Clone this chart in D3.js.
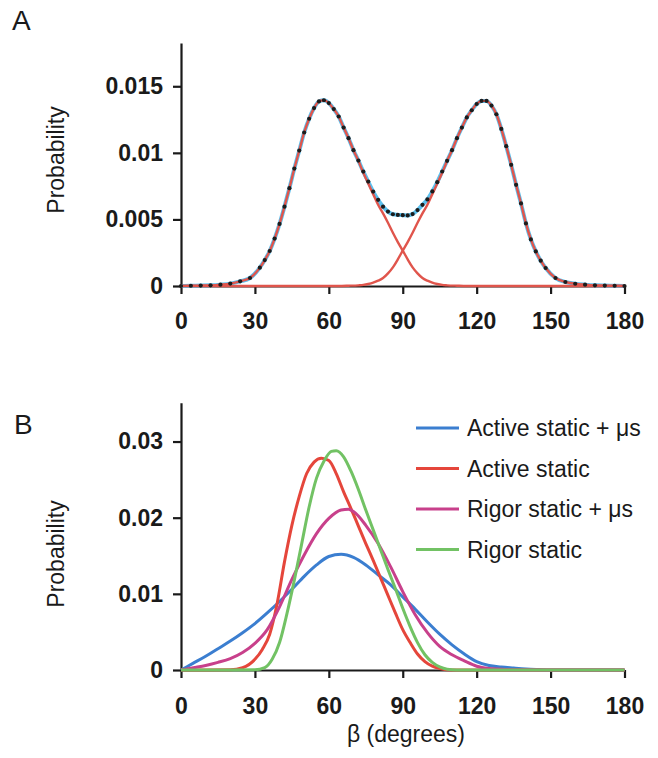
<!DOCTYPE html>
<html>
<head>
<meta charset="utf-8">
<script src="https://cdn.jsdelivr.net/npm/d3@7"></script>
<style>
  html, body { margin: 0; padding: 0; background: #ffffff; }
  svg { display: block; font-family: "Liberation Sans", Arial, Helvetica, sans-serif; }
</style>
</head>
<body>
<svg id="chart" width="658" height="758"></svg>
<script>
// ---------------- DATA ----------------
// Panel A: fitted total (dots / cyan line) and two components (red)
const sumAngle = [0,4,8,12,16,20,24,28,32,34,36,38,40,42,44,46,48,50,52,54,56,58,60,62,64,66,68,70,72,74,76,78,80,82,84,86,88,90,
  92,94,96,98,100,102,104,106,108,110,112,114,116,118,120,122,124,126,128,130,132,134,136,138,140,142,144,146,148,152,156,160,164,168,172,176,180];
const sumValue = [0,0.00002,0.00003,0.00005,0.0001,0.00018,0.00035,0.0006,0.00138,0.00195,0.00263,0.00356,0.00466,0.00596,0.00735,0.00882,0.01017,0.01153,0.01256,0.01336,0.01386,0.01395,0.01374,0.01329,0.01273,0.0119,0.0111,0.0102,0.00942,0.00859,0.00784,0.00709,0.00647,0.00596,0.00559,0.00539,0.00534,0.00532,
  0.0053,0.0054,0.0057,0.0061,0.0065,0.0071,0.0078,0.0086,0.0094,0.0102,0.0111,0.0119,0.01266,0.0132,0.01367,0.0139,0.0139,0.01355,0.0129,0.0118,0.0105,0.0091,0.0076,0.0062,0.0047,0.0035,0.0026,0.0019,0.00135,0.0006,0.0003,0.00017,0.0001,0.00005,0.00003,0.00002,0];

const peak1Angle = [0,4,8,12,16,20,24,28,32,34,36,38,40,42,44,46,48,50,52,54,56,58,60,62,64,66,68,70,72,74,76,78,80,82,84,86,88,90,92,94,96,98,100,102,104,106,108,112,116,120,130,140,150,160,170,180];
const peak1Value = [0,0.00002,0.00003,0.00005,0.0001,0.00018,0.00035,0.0006,0.00138,0.00195,0.00263,0.00356,0.00466,0.00596,0.00735,0.00882,0.01017,0.01153,0.01256,0.01336,0.01386,0.01395,0.01374,0.01329,0.01273,0.0119,0.0111,0.0102,0.0094,0.0085,0.0077,0.0069,0.0061,0.00545,0.00475,0.004,0.0033,0.00266,0.002,0.0014,0.00095,0.0006,0.0004,0.00025,0.00015,0.00008,0.00005,0.00002,0,0,0,0,0,0,0,0];

const peak2Angle = [0,20,40,60,64,68,72,74,76,78,80,82,84,86,88,90,92,94,96,98,100,102,104,106,108,110,112,114,116,118,120,122,124,126,128,130,132,134,136,138,140,142,144,146,148,152,156,160,164,168,172,176,180];
const peak2Value = [0,0,0,0,0,0.00002,0.00005,0.00008,0.00015,0.00025,0.0004,0.0006,0.00095,0.0014,0.002,0.00266,0.0033,0.004,0.00475,0.00545,0.0061,0.0069,0.0077,0.0085,0.0094,0.0102,0.0111,0.0119,0.01266,0.0132,0.01367,0.0139,0.0139,0.01355,0.0129,0.0118,0.0105,0.0091,0.0076,0.0062,0.0047,0.0035,0.0026,0.0019,0.00135,0.0006,0.0003,0.00017,0.0001,0.00005,0.00003,0.00002,0];

// Panel B: four distributions
const seriesNames = ["Active static + \u03bcs", "Active static", "Rigor static + \u03bcs", "Rigor static"];
const seriesColors = ["#3b7ed0", "#e5463b", "#c8408b", "#72c264"];

const activeMuAngle = [0,5,10,15,20,25,30,35,40,45,50,55,60,65,70,75,80,85,90,95,100,105,110,115,120,125,130,135,140,145,150,160,170,180];
const activeMuValue = [0,0.0009,0.0018,0.0028,0.0038,0.0049,0.0061,0.0075,0.009,0.0106,0.0123,0.0138,0.0149,0.0152,0.0148,0.0138,0.0125,0.0112,0.0096,0.008,0.0063,0.0047,0.0033,0.0021,0.0011,0.0006,0.0004,0.00025,0.00012,0.00005,0,0,0,0];

const activeAngle = [0,10,20,25,30,33,36,39,42,45,48,51,54,57,60,63,66,69,72,75,78,81,84,87,90,93,96,99,102,105,110,120,180];
const activeValue = [0,0,0.00003,0.0003,0.0014,0.0027,0.0047,0.0087,0.0142,0.019,0.0228,0.0258,0.0273,0.0278,0.0275,0.0258,0.0234,0.0212,0.0189,0.0166,0.0144,0.0121,0.0098,0.0075,0.0053,0.0036,0.0021,0.0011,0.0005,0.0002,0,0,0];

const rigorMuAngle = [0,5,10,15,20,25,30,35,40,45,50,55,60,65,68,70,75,80,85,90,95,100,105,110,115,120,125,130,135,180];
const rigorMuValue = [0,0.0003,0.0006,0.001,0.0015,0.0023,0.0035,0.0053,0.0083,0.0119,0.0151,0.0179,0.0199,0.021,0.0211,0.0208,0.019,0.0166,0.0136,0.0103,0.0073,0.0049,0.0031,0.002,0.0012,0.0005,0.0002,0.0001,0,0];

const rigorAngle = [0,20,30,34,37,40,43,46,49,52,55,58,61,63,66,69,72,75,78,81,84,87,90,93,96,99,102,105,108,112,120,180];
const rigorValue = [0,0,0.00002,0.0003,0.0014,0.0036,0.0074,0.0118,0.0166,0.0214,0.0252,0.0274,0.0287,0.0288,0.028,0.0261,0.0237,0.021,0.0184,0.0158,0.0132,0.0107,0.0081,0.0057,0.0036,0.002,0.001,0.0004,0.0001,0,0,0];

const xTicks = [0,30,60,90,120,150,180];
const yTicksA = [0,0.005,0.01,0.015];
const yTicksB = [0,0.01,0.02,0.03];

// ---------------- DRAW ----------------
const svg = d3.select("#chart");
svg.append("rect").attr("width",658).attr("height",758).attr("fill","#fff");

const zip = (a, v) => a.map((x, i) => [x, v[i]]);
const fmt = d => d === 0 ? "0" : String(d);

function drawAxes(x, y, yTicks, xPad) {
  const gx = svg.append("g").attr("transform", `translate(0,${y(0)})`)
    .call(d3.axisBottom(x).tickValues(xTicks).tickSize(8).tickSizeOuter(0).tickPadding(xPad).tickFormat(d3.format("d")));
  const gy = svg.append("g").attr("transform", `translate(${x(0)},0)`)
    .call(d3.axisLeft(y).tickValues(yTicks).tickSize(8).tickSizeOuter(0).tickPadding(10).tickFormat(fmt));
  [gx, gy].forEach(g => {
    g.selectAll("path, line").attr("stroke", "#1a1a1a").attr("stroke-width", 2.2);
    g.selectAll("text").attr("font-size", 23).attr("font-weight", "bold").attr("fill", "#1a1a1a")
      .attr("font-family", "'Liberation Sans', Arial, sans-serif");
  });
}

// Panel A
const xA = d3.scaleLinear().domain([0,180]).range([181,624.5]);
const yA = d3.scaleLinear().domain([0,0.01825]).range([286,43]);
drawAxes(xA, yA, yTicksA, 19);

const lineA = d3.line().x(d => xA(d[0])).y(d => yA(d[1])).curve(d3.curveMonotoneX);
svg.append("path").attr("d", lineA(zip(sumAngle, sumValue)))
  .attr("fill","none").attr("stroke","#5cc0ee").attr("stroke-width",4);
[zip(peak1Angle, peak1Value), zip(peak2Angle, peak2Value)].forEach(pts => {
  svg.append("path").attr("d", lineA(pts)).attr("fill","none")
    .attr("stroke","#e0554c").attr("stroke-width",2.4);
});
svg.append("g").selectAll("circle").data(zip(sumAngle, sumValue)).join("circle")
  .attr("cx", d => xA(d[0])).attr("cy", d => yA(d[1])).attr("r", 2.1).attr("fill", "#1c1c1c");

svg.append("text").attr("x", 12).attr("y", 30).attr("font-size", 28).attr("fill","#1a1a1a").text("A");
svg.append("text").attr("transform", "translate(64,160) rotate(-90)").attr("text-anchor","middle")
  .attr("font-size", 23).attr("fill","#1a1a1a").text("Probability");

// Panel B
const xB = d3.scaleLinear().domain([0,180]).range([181,624.5]);
const yB = d3.scaleLinear().domain([0,0.0351]).range([670,402.7]);
drawAxes(xB, yB, yTicksB, 20);

const lineB = d3.line().x(d => xB(d[0])).y(d => yB(d[1])).curve(d3.curveMonotoneX);
const seriesB = [zip(activeMuAngle, activeMuValue), zip(activeAngle, activeValue), zip(rigorMuAngle, rigorMuValue), zip(rigorAngle, rigorValue)];
seriesB.forEach((pts, i) => {
  svg.append("path").attr("d", lineB(pts)).attr("fill","none")
    .attr("stroke", seriesColors[i]).attr("stroke-width", 3).attr("stroke-linejoin","round");
});

svg.append("text").attr("x", 14).attr("y", 434).attr("font-size", 28).attr("fill","#1a1a1a").text("B");
svg.append("text").attr("transform", "translate(64,554) rotate(-90)").attr("text-anchor","middle")
  .attr("font-size", 23).attr("fill","#1a1a1a").text("Probability");
svg.append("text").attr("x", 406).attr("y", 742).attr("text-anchor","middle")
  .attr("font-size", 23).attr("fill","#1a1a1a").text("\u03b2 (degrees)");

// Legend
const legendY = d3.scaleLinear().domain([0,3]).range([428,549.5]);
const lg = svg.append("g");
seriesNames.forEach((name, i) => {
  lg.append("line").attr("x1", 416).attr("x2", 459).attr("y1", legendY(i)).attr("y2", legendY(i))
    .attr("stroke", seriesColors[i]).attr("stroke-width", 3);
  lg.append("text").attr("x", 467).attr("y", legendY(i)).attr("dy", "0.36em")
    .attr("font-size", 23).attr("fill", "#1a1a1a").text(name);
});
</script>
</body>
</html>
